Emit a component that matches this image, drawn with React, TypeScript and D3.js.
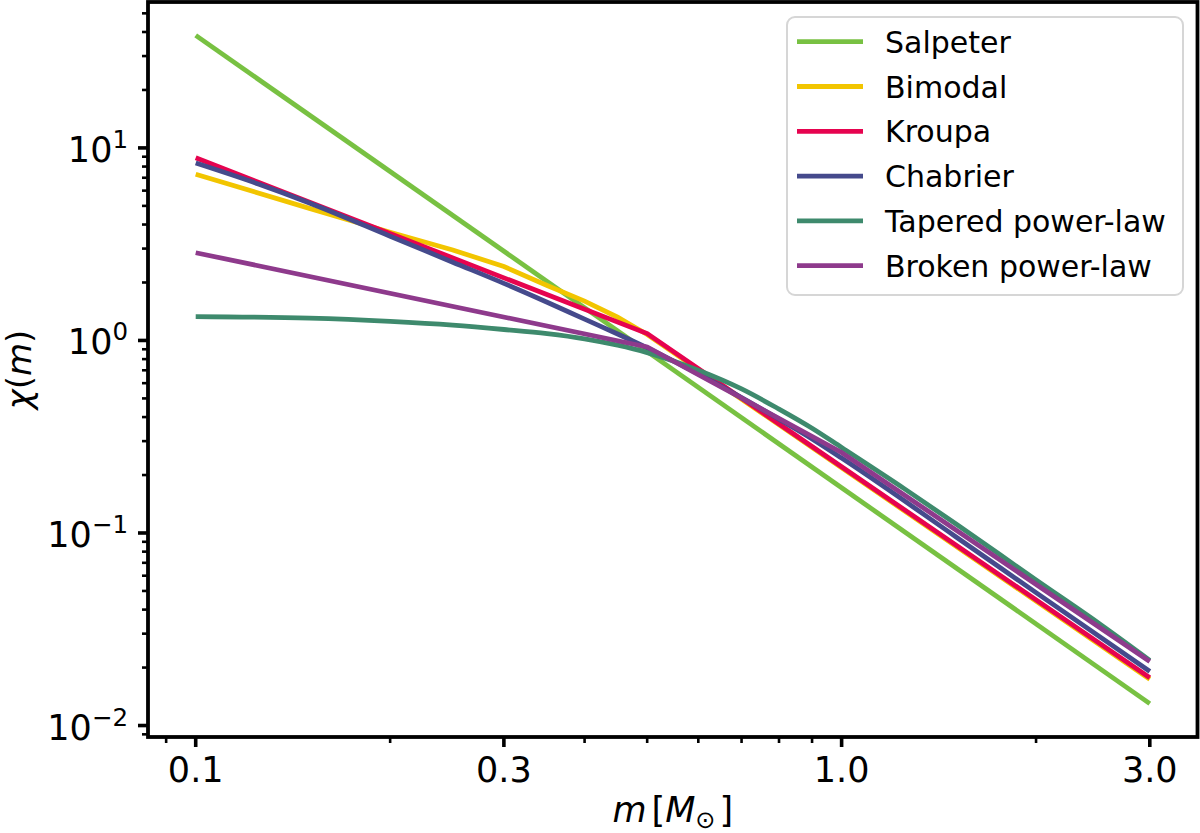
import React, { useEffect, useRef } from 'react';
import * as d3 from 'd3';

// stellar mass (in solar masses) and chi(m) for each IMF
const SALPETER_M = [0.1, 3.0];
const SALPETER_CHI = [38.4, 0.013];

const BIMODAL_M = [0.1, 0.15, 0.2, 0.25, 0.3, 0.35, 0.4, 0.45, 0.5, 3.0];
const BIMODAL_CHI = [7.3, 4.85, 3.65, 2.95, 2.42, 1.93, 1.6, 1.32, 1.075, 0.0174];

const KROUPA_M = [0.1, 0.5, 3.0];
const KROUPA_CHI = [8.88, 1.085, 0.0177];

const CHABRIER_M = [0.1, 0.125, 0.15, 0.2, 0.25, 0.3, 0.35, 0.4, 0.45, 0.5, 0.6, 0.7, 0.8, 0.9, 1.0, 1.5, 2.0, 3.0];
const CHABRIER_CHI = [8.35, 6.5, 5.18, 3.48, 2.55, 1.98, 1.58, 1.29, 1.08, 0.915, 0.67, 0.505, 0.39, 0.308, 0.245, 0.096, 0.049, 0.0191];

const TAPERED_M = [0.1, 0.15, 0.2, 0.25, 0.3, 0.35, 0.4, 0.45, 0.5, 0.6, 0.7, 0.8, 0.9, 1.0, 1.25, 1.5, 2.0, 2.5, 3.0];
const TAPERED_CHI = [1.33, 1.305, 1.255, 1.2, 1.14, 1.085, 1.02, 0.945, 0.865, 0.7, 0.56, 0.44, 0.35, 0.278, 0.17, 0.112, 0.057, 0.034, 0.0218];

const BROKEN_M = [0.1, 0.5, 1.0, 3.0];
const BROKEN_CHI = [2.855, 0.925, 0.262, 0.0215];

const SERIES_NAMES = ['Salpeter', 'Bimodal', 'Kroupa', 'Chabrier', 'Tapered power-law', 'Broken power-law'];
const SERIES_COLORS = ['#78c142', '#f2c500', '#e6034f', '#454a8c', '#3e8a6d', '#8e3a8c'];
// smooth curves get a monotone interpolation, broken power laws stay piecewise straight
const SERIES_SMOOTH = [false, false, false, true, true, false];

const X_TICKS = [0.1, 0.3, 1.0, 3.0];
const X_TICK_LABELS = ['0.1', '0.3', '1.0', '3.0'];
const Y_TICKS = [0.01, 0.1, 1, 10];
const Y_TICK_EXPONENTS = ['\u22122', '\u22121', '0', '1'];

const FONT = 'DejaVu Sans';

const App = () => {
  const svgRef = useRef<SVGSVGElement>(null);

  useEffect(() => {
    const svg = d3.select(svgRef.current);
    svg.selectAll('*').remove();

    const box = { left: 148, right: 1197.5, top: 2, bottom: 737 };

    const series = [
      [SALPETER_M, SALPETER_CHI],
      [BIMODAL_M, BIMODAL_CHI],
      [KROUPA_M, KROUPA_CHI],
      [CHABRIER_M, CHABRIER_CHI],
      [TAPERED_M, TAPERED_CHI],
      [BROKEN_M, BROKEN_CHI],
    ].map(([m, chi], i) => ({
      name: SERIES_NAMES[i],
      color: SERIES_COLORS[i],
      smooth: SERIES_SMOOTH[i],
      points: m.map((v, j) => [v, chi[j]] as [number, number]),
    }));

    // 5% padding in log space, like matplotlib autoscaling
    const pad = (lo: number, hi: number) => {
      const a = Math.log10(lo), b = Math.log10(hi), d = (b - a) * 0.05;
      return [10 ** (a - d), 10 ** (b + d)];
    };
    const allM = series.flatMap(s => s.points.map(p => p[0]));
    const allChi = series.flatMap(s => s.points.map(p => p[1]));

    const x = d3.scaleLog()
      .domain(pad(d3.min(allM)!, d3.max(allM)!))
      .range([box.left, box.right]);
    const y = d3.scaleLog()
      .domain(pad(d3.min(allChi)!, d3.max(allChi)!))
      .range([box.bottom, box.top]);

    // curves
    const straight = d3.line<[number, number]>()
      .x(d => x(d[0]))
      .y(d => y(d[1]));
    const smooth = d3.line<[number, number]>()
      .x(d => x(d[0]))
      .y(d => y(d[1]))
      .curve(d3.curveMonotoneX);

    svg.append('g')
      .selectAll('path')
      .data(series)
      .join('path')
      .attr('d', d => (d.smooth ? smooth : straight)(d.points))
      .attr('fill', 'none')
      .attr('stroke', d => d.color)
      .attr('stroke-width', 4.8)
      .attr('stroke-linejoin', 'miter')
      .attr('stroke-linecap', 'butt');

    // frame
    svg.append('rect')
      .attr('x', box.left)
      .attr('y', box.top)
      .attr('width', box.right - box.left)
      .attr('height', box.bottom - box.top)
      .attr('fill', 'none')
      .attr('stroke', 'black')
      .attr('stroke-width', 3.8);

    const [x0, x1] = x.domain();
    const [y0, y1] = y.domain();
    const isMajor = (v: number, list: number[]) => list.some(t => Math.abs(t - v) / t < 1e-6);

    // x ticks
    const xMinor = x.ticks().filter(v => v >= x0 && v <= x1 && !isMajor(v, X_TICKS));
    const gx = svg.append('g');
    gx.selectAll('.minor')
      .data(xMinor)
      .join('line')
      .attr('x1', d => x(d)).attr('x2', d => x(d))
      .attr('y1', box.bottom).attr('y2', box.bottom + 6)
      .attr('stroke', 'black').attr('stroke-width', 2.6);
    gx.selectAll('.major')
      .data(X_TICKS)
      .join('line')
      .attr('x1', d => x(d)).attr('x2', d => x(d))
      .attr('y1', box.bottom).attr('y2', box.bottom + 10)
      .attr('stroke', 'black').attr('stroke-width', 3.6);
    gx.selectAll('text')
      .data(X_TICKS)
      .join('text')
      .attr('x', d => x(d))
      .attr('y', 782)
      .attr('text-anchor', 'middle')
      .attr('font-family', FONT)
      .attr('font-size', 35)
      .text((d, i) => X_TICK_LABELS[i]);

    // y ticks
    const yMinor = y.ticks().filter(v => v >= y0 && v <= y1 && !isMajor(v, Y_TICKS));
    const gy = svg.append('g');
    gy.selectAll('.minor')
      .data(yMinor)
      .join('line')
      .attr('x1', box.left - 6).attr('x2', box.left)
      .attr('y1', d => y(d)).attr('y2', d => y(d))
      .attr('stroke', 'black').attr('stroke-width', 2.6);
    gy.selectAll('.major')
      .data(Y_TICKS)
      .join('line')
      .attr('x1', box.left - 10).attr('x2', box.left)
      .attr('y1', d => y(d)).attr('y2', d => y(d))
      .attr('stroke', 'black').attr('stroke-width', 3.6);
    const yLabels = gy.selectAll('text')
      .data(Y_TICKS)
      .join('text')
      .attr('x', 128)
      .attr('y', d => y(d) + 14)
      .attr('text-anchor', 'end')
      .attr('font-family', FONT)
      .attr('font-size', 35);
    yLabels.append('tspan').text('10');
    yLabels.append('tspan')
      .attr('font-size', 24.5)
      .attr('dy', -14)
      .text((d, i) => Y_TICK_EXPONENTS[i]);

    // axis labels
    const xl = svg.append('text')
      .attr('x', (box.left + box.right) / 2)
      .attr('y', 822)
      .attr('text-anchor', 'middle')
      .attr('font-family', FONT)
      .attr('font-size', 35);
    xl.append('tspan').attr('font-style', 'italic').text('m');
    xl.append('tspan').attr('dx', 5).text('[');
    xl.append('tspan').attr('font-style', 'italic').text('M');
    xl.append('tspan').attr('font-size', 24).attr('dy', 6).text('\u2299');
    xl.append('tspan').attr('dy', -6).attr('dx', 4).text(']');

    const yl = svg.append('text')
      .attr('transform', `translate(31,${(box.top + box.bottom) / 2}) rotate(-90)`)
      .attr('text-anchor', 'middle')
      .attr('font-family', FONT)
      .attr('font-size', 34);
    yl.append('tspan').attr('font-style', 'italic').text('\u03c7');
    yl.append('tspan').text('(');
    yl.append('tspan').attr('font-style', 'italic').text('m');
    yl.append('tspan').text(')');

    // legend
    const lg = svg.append('g');
    lg.append('rect')
      .attr('x', 787).attr('y', 17)
      .attr('width', 396).attr('height', 278)
      .attr('rx', 8)
      .attr('fill', 'white').attr('fill-opacity', 0.8)
      .attr('stroke', '#d6d6d6').attr('stroke-width', 2);
    const rows = lg.selectAll('.row')
      .data(series)
      .join('g')
      .attr('transform', (d, i) => `translate(0,${41.7 + 44.8 * i})`);
    rows.append('line')
      .attr('x1', 797).attr('x2', 863)
      .attr('stroke', d => d.color)
      .attr('stroke-width', 4.8);
    rows.append('text')
      .attr('x', 885)
      .attr('y', 11)
      .attr('font-family', FONT)
      .attr('font-size', 30)
      .text(d => d.name);
  }, []);

  return (
    <svg
      ref={svgRef}
      width={1200}
      height={833}
      style={{ position: 'absolute', left: 0, top: 0, background: 'white' }}
    />
  );
};

export default App;
